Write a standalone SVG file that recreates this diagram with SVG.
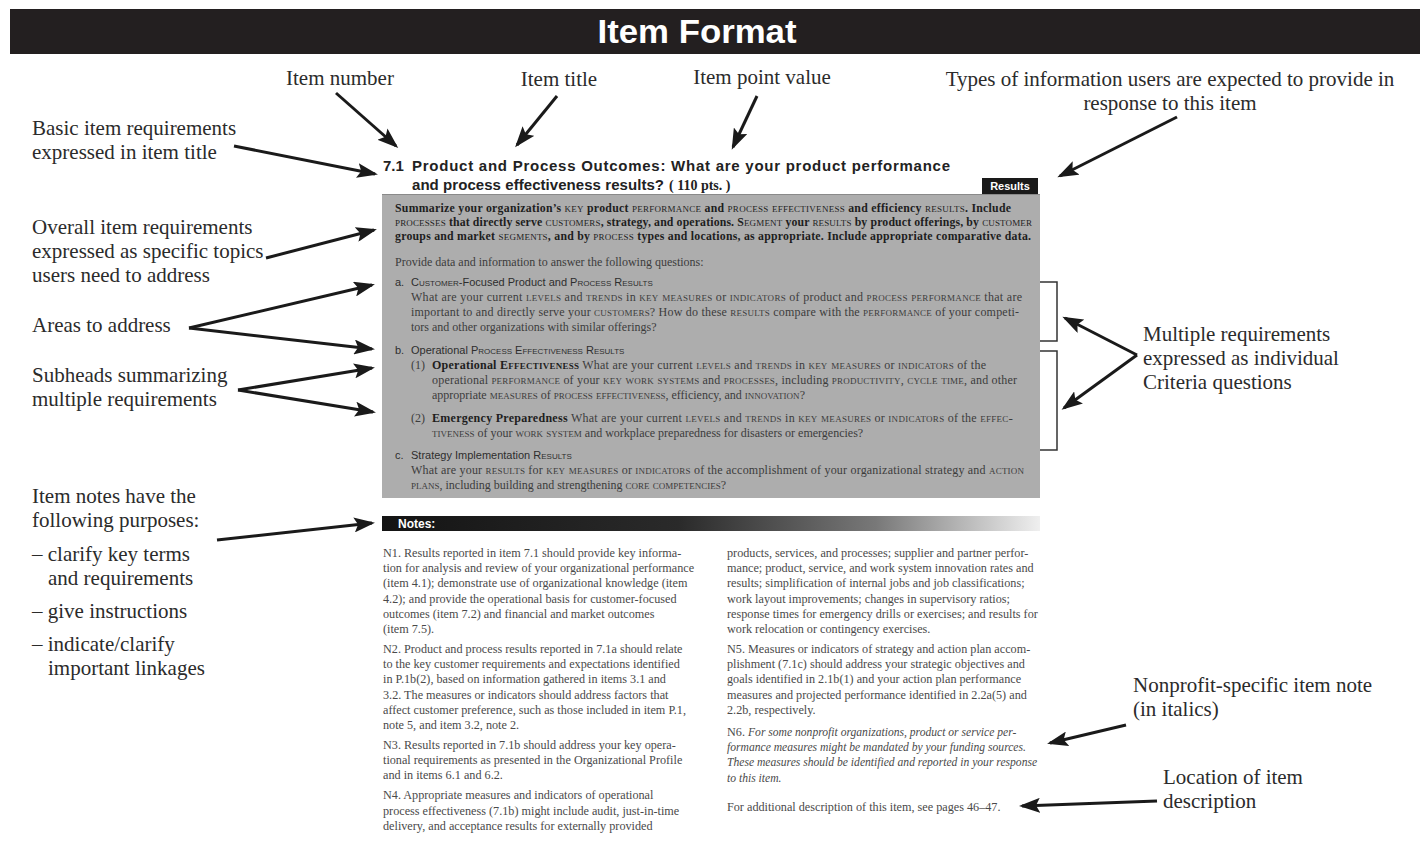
<svg xmlns="http://www.w3.org/2000/svg" width="1420" height="850" viewBox="0 0 1420 850">
<defs>
<marker id="ah" markerUnits="userSpaceOnUse" markerWidth="21" markerHeight="15" viewBox="0 0 21 15" refX="18" refY="7.5" orient="auto">
<path d="M0,0 L21,7.5 L0,15 L4,7.5 z" fill="#1a1a1a"/>
</marker>
<linearGradient id="ng" x1="0" y1="0" x2="1" y2="0">
<stop offset="0" stop-color="#141414"/>
<stop offset="0.45" stop-color="#2a2a2a"/>
<stop offset="0.75" stop-color="#787878"/>
<stop offset="1" stop-color="#efefef"/>
</linearGradient>
<style>
.lbl{font-family:"Liberation Serif",serif;font-size:21px;fill:#2b2b2b}
.sans{font-family:"Liberation Sans",sans-serif}
.ser{font-family:"Liberation Serif",serif}
.sc{font-variant:small-caps;font-size:1.1em}
.sum{font-family:"Liberation Serif",serif;font-size:11.8px;font-weight:bold;fill:#1e1e1e}
.q{font-family:"Liberation Serif",serif;font-size:12px;fill:#3c3c3c}
.hd{font-family:"Liberation Sans",sans-serif;font-size:11px;fill:#2e2e2e}
.nt{font-family:"Liberation Serif",serif;font-size:12.2px;fill:#4a4a4a}
.it{font-style:italic;font-size:11.6px}
.arr{stroke:#1a1a1a;stroke-width:3;fill:none;marker-end:url(#ah)}
.brk{stroke:#333;stroke-width:1.5;fill:none}
</style>
</defs>
<rect x="0" y="0" width="1420" height="850" fill="#ffffff"/>

<g id="header">
<rect x="10" y="9" width="1410" height="45" fill="#231f20"/>
<text x="697" y="43" text-anchor="middle" class="sans" font-size="33" font-weight="bold" fill="#ffffff" textLength="199" lengthAdjust="spacingAndGlyphs">Item Format</text>
</g>

<g id="item-title">
<text x="383" y="171" class="sans" font-size="15" font-weight="bold" fill="#222">7.1</text>
<text x="412" y="171" class="sans" font-size="15" font-weight="bold" fill="#222" textLength="538">Product and Process Outcomes: What are your product performance</text>
<text x="412" y="190" class="sans" font-size="15" font-weight="bold" fill="#222" textLength="252">and process effectiveness results?</text>
<text x="669" y="190" class="ser" font-size="14" font-weight="bold" fill="#222">( 110 pts. )</text>
<rect x="982" y="178" width="56" height="16" fill="#1a1a1a"/>
<text x="1010" y="190" text-anchor="middle" class="sans" font-size="11" font-weight="bold" fill="#fff">Results</text>
</g>

<g id="criteria-box">
<rect x="382" y="194" width="658" height="304" fill="#adadad"/>
<line x1="382" y1="194.5" x2="1040" y2="194.5" stroke="#8a8a8a" stroke-width="1"/>
<text x="395" y="212" class="sum" textLength="616">Summarize your organization’s <tspan class="sc" font-weight="normal">key</tspan> product <tspan class="sc" font-weight="normal">performance</tspan> and <tspan class="sc" font-weight="normal">process effectiveness</tspan> and efficiency <tspan class="sc" font-weight="normal">results</tspan>. Include</text>
<text x="395" y="226" class="sum" textLength="637"><tspan class="sc" font-weight="normal">processes</tspan> that directly serve <tspan class="sc" font-weight="normal">customers</tspan>, strategy, and operations. S<tspan class="sc" font-weight="normal">egment</tspan> your <tspan class="sc" font-weight="normal">results</tspan> by product offerings, by <tspan class="sc" font-weight="normal">customer</tspan></text>
<text x="395" y="240" class="sum" textLength="636">groups and market <tspan class="sc" font-weight="normal">segments</tspan>, and by <tspan class="sc" font-weight="normal">process</tspan> types and locations, as appropriate. Include appropriate comparative data.</text>
<text x="395" y="266" class="q">Provide data and information to answer the following questions:</text>

<text x="395" y="286" class="hd">a.</text>
<text x="411" y="286" class="hd">C<tspan class="sc">ustomer</tspan>-Focused Product and P<tspan class="sc">rocess</tspan> R<tspan class="sc">esults</tspan></text>
<text x="411" y="301" class="q" textLength="611">What are your current <tspan class="sc">levels</tspan> and <tspan class="sc">trends</tspan> in <tspan class="sc">key measures</tspan> or <tspan class="sc">indicators</tspan> of product and <tspan class="sc">process performance</tspan> that are</text>
<text x="411" y="316" class="q" textLength="608">important to and directly serve your <tspan class="sc">customers</tspan>? How do these <tspan class="sc">results</tspan> compare with the <tspan class="sc">performance</tspan> of your competi-</text>
<text x="411" y="331" class="q">tors and other organizations with similar offerings?</text>

<text x="395" y="354" class="hd">b.</text>
<text x="411" y="354" class="hd">Operational P<tspan class="sc">rocess</tspan> E<tspan class="sc">ffectiveness</tspan> R<tspan class="sc">esults</tspan></text>
<text x="411" y="369" class="q">(1)</text>
<text x="432" y="369" class="q" textLength="554"><tspan font-weight="bold" fill="#1e1e1e">Operational E<tspan class="sc">ffectiveness</tspan></tspan>    What are your current <tspan class="sc">levels</tspan> and <tspan class="sc">trends</tspan> in <tspan class="sc">key measures</tspan> or <tspan class="sc">indicators</tspan> of the</text>
<text x="432" y="384" class="q" textLength="585">operational <tspan class="sc">performance</tspan> of your <tspan class="sc">key work systems</tspan> and <tspan class="sc">processes</tspan>, including <tspan class="sc">productivity</tspan>, <tspan class="sc">cycle time</tspan>, and other</text>
<text x="432" y="399" class="q">appropriate <tspan class="sc">measures</tspan> of <tspan class="sc">process effectiveness</tspan>, efficiency, and <tspan class="sc">innovation</tspan>?</text>
<text x="411" y="422" class="q">(2)</text>
<text x="432" y="422" class="q" textLength="581"><tspan font-weight="bold" fill="#1e1e1e">Emergency Preparedness</tspan>    What are your current <tspan class="sc">levels</tspan> and <tspan class="sc">trends</tspan> in <tspan class="sc">key measures</tspan> or <tspan class="sc">indicators</tspan> of the <tspan class="sc">effec-</tspan></text>
<text x="432" y="437" class="q"><tspan class="sc">tiveness</tspan> of your <tspan class="sc">work system</tspan> and workplace preparedness for disasters or emergencies?</text>

<text x="395" y="459" class="hd">c.</text>
<text x="411" y="459" class="hd">Strategy Implementation R<tspan class="sc">esults</tspan></text>
<text x="411" y="474" class="q" textLength="613">What are your <tspan class="sc">results</tspan> for <tspan class="sc">key measures</tspan> or <tspan class="sc">indicators</tspan> of the accomplishment of your organizational strategy and <tspan class="sc">action</tspan></text>
<text x="411" y="489" class="q"><tspan class="sc">plans</tspan>, including building and strengthening <tspan class="sc">core competencies</tspan>?</text>
</g>

<g id="brackets">
<path class="brk" d="M1040,282 H1057 V341 H1040"/>
<path class="brk" d="M1040,351 H1057 V450 H1040"/>
</g>

<g id="notes">
<rect x="382" y="516" width="658" height="15" fill="url(#ng)"/>
<text x="398" y="528" class="sans" font-size="12" font-weight="bold" fill="#fff">Notes:</text>
<text class="nt">
<tspan x="383" y="557">N1. Results reported in item 7.1 should provide key informa-</tspan>
<tspan x="383" y="572.2">tion for analysis and review of your organizational performance</tspan>
<tspan x="383" y="587.4">(item 4.1); demonstrate use of organizational knowledge (item</tspan>
<tspan x="383" y="602.6">4.2); and provide the operational basis for customer-focused</tspan>
<tspan x="383" y="617.8">outcomes (item 7.2) and financial and market outcomes</tspan>
<tspan x="383" y="633">(item 7.5).</tspan>
<tspan x="383" y="653">N2. Product and process results reported in 7.1a should relate</tspan>
<tspan x="383" y="668.2">to the key customer requirements and expectations identified</tspan>
<tspan x="383" y="683.4">in P.1b(2), based on information gathered in items 3.1 and</tspan>
<tspan x="383" y="698.6">3.2. The measures or indicators should address factors that</tspan>
<tspan x="383" y="713.8">affect customer preference, such as those included in item P.1,</tspan>
<tspan x="383" y="729">note 5, and item 3.2, note 2.</tspan>
<tspan x="383" y="749">N3. Results reported in 7.1b should address your key opera-</tspan>
<tspan x="383" y="764.2">tional requirements as presented in the Organizational Profile</tspan>
<tspan x="383" y="779.4">and in items 6.1 and 6.2.</tspan>
<tspan x="383" y="799.4">N4. Appropriate measures and indicators of operational</tspan>
<tspan x="383" y="814.6">process effectiveness (7.1b) might include audit, just-in-time</tspan>
<tspan x="383" y="829.8">delivery, and acceptance results for externally provided</tspan>
</text>
<text class="nt">
<tspan x="727" y="557">products, services, and processes; supplier and partner perfor-</tspan>
<tspan x="727" y="572.2">mance; product, service, and work system innovation rates and</tspan>
<tspan x="727" y="587.4">results; simplification of internal jobs and job classifications;</tspan>
<tspan x="727" y="602.6">work layout improvements; changes in supervisory ratios;</tspan>
<tspan x="727" y="617.8">response times for emergency drills or exercises; and results for</tspan>
<tspan x="727" y="633">work relocation or contingency exercises.</tspan>
<tspan x="727" y="653">N5. Measures or indicators of strategy and action plan accom-</tspan>
<tspan x="727" y="668.2">plishment (7.1c) should address your strategic objectives and</tspan>
<tspan x="727" y="683.4">goals identified in 2.1b(1) and your action plan performance</tspan>
<tspan x="727" y="698.6">measures and projected performance identified in 2.2a(5) and</tspan>
<tspan x="727" y="713.8">2.2b, respectively.</tspan>
<tspan x="727" y="736">N6. <tspan class="it">For some nonprofit organizations, product or service per-</tspan></tspan>
<tspan x="727" y="751.2" class="it">formance measures might be mandated by your funding sources.</tspan>
<tspan x="727" y="766.4" class="it">These measures should be identified and reported in your response</tspan>
<tspan x="727" y="781.6" class="it">to this item.</tspan>
<tspan x="727" y="811">For additional description of this item, see pages 46–47.</tspan>
</text>
</g>

<g id="label-item-number"><text x="340" y="85" text-anchor="middle" class="lbl">Item number</text></g>
<g id="label-item-title"><text x="559" y="86" text-anchor="middle" class="lbl">Item title</text></g>
<g id="label-point-value"><text x="762" y="84" text-anchor="middle" class="lbl">Item point value</text></g>
<g id="label-types"><text class="lbl" text-anchor="middle"><tspan x="1170" y="86">Types of information users are expected to provide in</tspan><tspan x="1170" y="110">response to this item</tspan></text></g>
<g id="label-basic"><text class="lbl"><tspan x="32" y="135">Basic item requirements</tspan><tspan x="32" y="159">expressed in item title</tspan></text></g>
<g id="label-overall"><text class="lbl"><tspan x="32" y="234">Overall item requirements</tspan><tspan x="32" y="258">expressed as specific topics</tspan><tspan x="32" y="282">users need to address</tspan></text></g>
<g id="label-areas"><text x="32" y="332" class="lbl">Areas to address</text></g>
<g id="label-subheads"><text class="lbl"><tspan x="32" y="382">Subheads summarizing</tspan><tspan x="32" y="406">multiple requirements</tspan></text></g>
<g id="label-notes"><text class="lbl"><tspan x="32" y="503">Item notes have the</tspan><tspan x="32" y="527">following purposes:</tspan><tspan x="32" y="561">– clarify key terms</tspan><tspan x="48" y="585">and requirements</tspan><tspan x="32" y="618">– give instructions</tspan><tspan x="32" y="651">– indicate/clarify</tspan><tspan x="48" y="675">important linkages</tspan></text></g>
<g id="label-multiple"><text class="lbl"><tspan x="1143" y="341">Multiple requirements</tspan><tspan x="1143" y="365">expressed as individual</tspan><tspan x="1143" y="389">Criteria questions</tspan></text></g>
<g id="label-nonprofit"><text class="lbl"><tspan x="1133" y="692">Nonprofit-specific item note</tspan><tspan x="1133" y="716">(in italics)</tspan></text></g>
<g id="label-location"><text class="lbl"><tspan x="1163" y="784">Location of item</tspan><tspan x="1163" y="808">description</tspan></text></g>

<g id="connectors">
<line class="arr" x1="336" y1="93" x2="396" y2="146"/>
<line class="arr" x1="557" y1="96" x2="517" y2="145"/>
<line class="arr" x1="757" y1="96" x2="733" y2="147"/>
<line class="arr" x1="1177" y1="117" x2="1060" y2="176"/>
<line class="arr" x1="234" y1="146" x2="375" y2="174"/>
<line class="arr" x1="266" y1="258" x2="374" y2="230"/>
<line class="arr" x1="189" y1="328" x2="372" y2="285"/>
<line class="arr" x1="189" y1="328" x2="372" y2="349"/>
<line class="arr" x1="238" y1="390" x2="372" y2="368"/>
<line class="arr" x1="238" y1="390" x2="373" y2="412"/>
<line class="arr" x1="217" y1="540" x2="372" y2="523"/>
<line class="arr" x1="1137" y1="355" x2="1065" y2="318"/>
<line class="arr" x1="1137" y1="355" x2="1064" y2="408"/>
<line class="arr" x1="1126" y1="725" x2="1050" y2="743"/>
<line class="arr" x1="1157" y1="801" x2="1022" y2="806"/>
</g>
</svg>
